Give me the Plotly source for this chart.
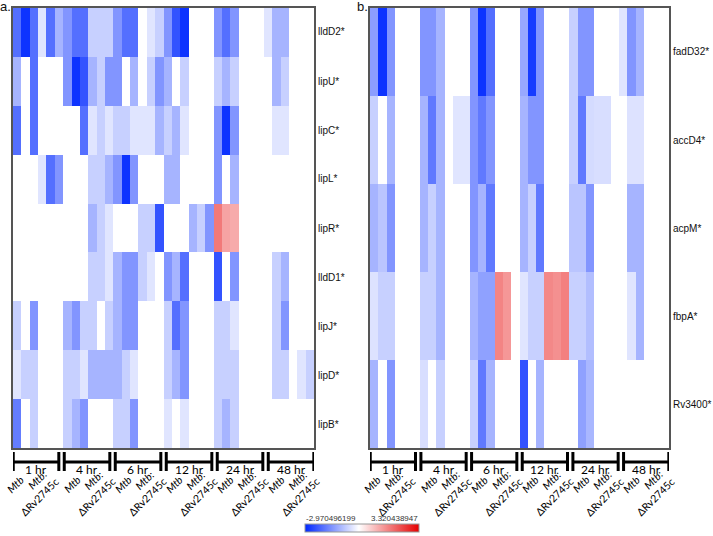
import plotly.graph_objects as go

# ---------------- data ----------------
genes_a = ["lldD2*", "lipU*", "lipC*", "lipL*", "lipR*", "lldD1*", "lipJ*", "lipD*", "lipB*"]
genes_b = ["fadD32*", "accD4*", "acpM*", "fbpA*", "Rv3400*"]
time_points = ["1 hr", "4 hr", "6 hr", "12 hr", "24 hr", "48 hr"]
strains = ["Mtb", "Mtb:ΔRv2745c"]
replicates = 3
z_min = -2.970496199
z_max = 3.320438947

lldD2 = [-1.99,-2.82,-1.99,-0.36,-1.99,-1.04,-1.46,-1.99,-1.99,-0.65,-0.65,-0.65,-1.46,-1.99,-1.99,0,-0.36,-0.65,-1.46,-2.38,-2.82,0,0,0,-1.46,-1.99,-1.46,0,0,0,-0.36,-1.04,-1.04,0,0,0]
lipU = [-1.04,0,-1.99,0,0,0,-1.46,-2.82,-2.38,-1.04,-0.65,-1.46,-1.46,0,-1.04,0,-0.65,-1.46,-1.04,0,-0.65,0,0,0,-0.65,-1.04,-0.65,0,0,0,0,-1.04,-0.65,0,0,0]
lipC = [-1.99,0,-1.99,0,0,0,0,0,-1.99,-0.36,-0.65,-0.36,-0.65,-0.65,-0.36,-0.36,-0.36,-1.04,-0.65,-1.04,-0.36,0,0,0,-1.46,-2.82,-1.46,0,0,0,0,-0.36,-0.36,0,0,0]
lipL = [0,0,0,-0.36,-1.99,-1.46,0,0,0,-0.65,-0.65,-1.04,-1.46,-2.82,-1.46,0,0,0,-1.04,-1.04,0,0,0,0,-1.46,0,-1.04,0,0,0,0,0,0,0,0,0]
lipR = [0,0,0,0,0,0,0,0,0,-1.04,-0.65,-0.36,0,0,0,-0.65,-0.65,-2.38,0,0,0,-1.04,-0.65,-1.46,1.75,1.2,1.1,0,0,0,0,0,0,0,0,0]
lldD1 = [0,0,0,0,0,0,0,0,0,-0.65,-0.65,-0.36,-1.04,-1.46,-1.46,-0.65,-0.36,0,-1.46,-1.04,-1.99,0,0,0,-2.38,0,-1.46,0,0,0,0,-0.65,-1.04,0,0,0]
lipJ = [-0.65,0,-1.46,0,0,0,-1.04,-1.46,-0.65,-0.65,0,-0.65,-1.04,-1.46,-1.46,0,0,0,-0.65,-1.99,-1.46,0,0,0,-0.65,-0.65,-0.36,0,0,0,0,-0.65,-1.46,0,0,0]
lipD = [-0.36,-0.65,-0.65,0,0,0,-0.65,-0.65,-0.36,-1.04,-1.04,-1.04,-1.04,-0.65,-0.36,0,0,0,-0.65,-1.04,-1.46,0,0,0,-0.65,-0.65,-0.65,0,0,0,0,-0.65,-0.65,0,-0.36,-0.65]
lipB = [-1.8,0,-0.65,0,0,0,-0.65,-1.04,-1.46,0,0,0,-0.65,-0.65,-1.46,0,0,0,-0.36,0,-0.36,0,0,0,-0.65,-1.04,-0.65,0,0,0,0,0,0,0,0,0]

fadD32 = [-1.35,-2.82,-1.46,0,0,0,-1.46,-1.46,-1.04,0,0,0,-1.46,-2.82,-1.99,0,0,0,-1.2,-2.7,-1.46,0,0,0,-0.65,-1.46,-1.46,0,0,0,-0.36,-1.46,-1.04,0,0,0]
accD4 = [-0.65,0,-1.04,0,0,0,-1.04,-1.85,-1.04,0,-0.36,-0.36,-1.46,-1.85,-1.46,0,0,0,-1.04,-1.46,-1.46,0,0,0,-0.65,-1.85,-0.5,-0.45,-0.45,0,0,-0.4,-0.4,0,0,0]
acpM = [-1.04,-0.8,-1.46,0,0,0,-1.04,-0.65,-1.04,0,0,0,-1.46,-1.04,-1.85,0,0,0,-1.04,-0.65,-1.85,0,0,0,-0.8,-0.8,-1.46,0,0,0,0,-1.04,-1.04,0,0,0]
fbpA = [-0.4,-0.65,-0.65,0,0,0,-0.65,-0.65,-1.04,0,0,0,-1.04,-1.3,-1.3,1.6,1.35,0,-0.36,-0.65,-0.65,1.55,1.45,1.65,-0.65,-0.65,-0.9,0,0,0,0,-0.36,-1.04,0,0,0]
Rv3400 = [-1.04,0,-1.46,0,0,0,-0.45,0,-0.65,0,0,0,-0.65,-1.85,-1.04,0,0,0,-2.38,0,-1.04,0,0,0,0,-1.3,-1.0,0,0,0,0,0,0,0,0,0]

z_a = [lldD2, lipU, lipC, lipL, lipR, lldD1, lipJ, lipD, lipB]
z_b = [fadD32, accD4, acpM, fbpA, Rv3400]

# ---------------- layout helpers (pixels) ----------------
W, H = 713, 536
TOP, BOTTOM = 8, 448
def px(x):
    return x / W
def py(y):
    return 1 - y / H

n_cols = len(time_points) * len(strains) * replicates
cols = list(range(n_cols))

fig = go.Figure()
fig.add_trace(go.Heatmap(z=z_a, x=cols, y=genes_a, coloraxis="coloraxis",
                         xaxis="x", yaxis="y", hoverinfo="skip"))
fig.add_trace(go.Heatmap(z=z_b, x=cols, y=genes_b, coloraxis="coloraxis",
                         xaxis="x2", yaxis="y2", hoverinfo="skip"))

mid = -z_min / (z_max - z_min)
colorscale = [[0, "rgb(0,40,255)"], [mid, "rgb(255,255,255)"], [1, "rgb(230,0,0)"]]

axis_common = dict(showline=True, mirror=True, linecolor="#555", linewidth=1.5,
                   showgrid=False, zeroline=False, ticks="")
panel_y = [py(BOTTOM), py(TOP)]

fig.update_layout(
    width=W, height=H, margin=dict(l=0, r=0, t=0, b=0),
    paper_bgcolor="white", plot_bgcolor="white",
    font=dict(family="Liberation Sans, Arial, sans-serif", color="black"),
    xaxis=dict(domain=[px(13), px(314)], range=[-0.5, n_cols - 0.5],
               showticklabels=False, anchor="y", **axis_common),
    yaxis=dict(domain=panel_y, anchor="x", autorange="reversed",
               showticklabels=False, **axis_common),
    xaxis2=dict(domain=[px(370), px(669)], range=[-0.5, n_cols - 0.5],
                showticklabels=False, anchor="y2", **axis_common),
    yaxis2=dict(domain=panel_y, anchor="x2", autorange="reversed",
                showticklabels=False, **axis_common),
    coloraxis=dict(cmin=z_min, cmax=z_max, colorscale=colorscale,
                   colorbar=dict(orientation="h", x=px(362), xanchor="center",
                                 y=py(533), yanchor="bottom", len=114, lenmode="pixels",
                                 thickness=8, outlinewidth=1, outlinecolor="#999",
                                 showticklabels=False, ticks="", xpad=0, ypad=0)),
)

shapes = []
annotations = []

# gene labels on the right of each panel (snapped to whole pixels)
for genes, xlab in ((genes_a, 316), (genes_b, 671)):
    step = (BOTTOM - TOP) / len(genes)
    for i, gname in enumerate(genes):
        yc = round(TOP + (i + 0.5) * step)
        annotations.append(dict(text=gname, x=px(xlab), y=py(yc), xref="paper", yref="paper",
                                xanchor="left", yanchor="middle", showarrow=False,
                                font=dict(size=10, color="#111")))

# panel letters
annotations.append(dict(text="a.", x=px(-2), y=py(-3), xref="paper", yref="paper",
                        xanchor="left", yanchor="top", showarrow=False,
                        font=dict(size=13, color="#111")))
annotations.append(dict(text="b.", x=px(355), y=py(-3), xref="paper", yref="paper",
                        xanchor="left", yanchor="top", showarrow=False,
                        font=dict(size=13, color="#111")))

# colorbar end labels
annotations.append(dict(text=f"{z_min:.9f}", x=px(304), y=py(525), xref="paper", yref="paper",
                        xanchor="left", yanchor="bottom", showarrow=False,
                        font=dict(size=8, color="#333")))
annotations.append(dict(text=f"{z_max:.9f}", x=px(420), y=py(525), xref="paper", yref="paper",
                        xanchor="right", yanchor="bottom", showarrow=False,
                        font=dict(size=8, color="#333")))

# brackets + group labels
group_pitch = 6.1
bracket_len = 5.45
label_shift = [-0.7, 0, 0, 0, 0, 0]
lw = 3
lab_font = dict(family="Lato, sans-serif", size=10.5, color="black")
for xref in ["x", "x2"]:
    for g, tp in enumerate(time_points):
        x0 = group_pitch * g - 0.5 + 0.03
        x1 = x0 + bracket_len
        shapes.append(dict(type="line", xref=xref, yref="paper", x0=x0, x1=x1,
                           y0=py(462), y1=py(462), line=dict(color="black", width=lw)))
        for xe in (x0, x1):
            shapes.append(dict(type="line", xref=xref, yref="paper", x0=xe, x1=xe,
                               y0=py(452), y1=py(471), line=dict(color="black", width=lw)))
        annotations.append(dict(text=tp, x=(x0 + x1) / 2, y=py(469.5), xref=xref, yref="paper",
                                xanchor="center", yanchor="middle", showarrow=False,
                                font=dict(family="Lato, sans-serif", size=12, color="black")))
        s = label_shift[g]
        a, b = strains[1].split(":")
        for txt, dx, yc in (("<i>" + strains[0] + "</i>", 1.0, 484),
                            ("<i>" + a + ":</i>", 3.55, 480),
                            (b, 3.8, 496.5)):
            annotations.append(dict(text=txt, x=x0 + dx + s, y=py(yc),
                                    xref=xref, yref="paper", xanchor="center", yanchor="middle",
                                    textangle=-45, showarrow=False, font=lab_font))

fig.update_layout(shapes=shapes, annotations=annotations)

fig.write_html("out.html", config={"displayModeBar": False},
               post_script="document.body.style.margin='0';")
